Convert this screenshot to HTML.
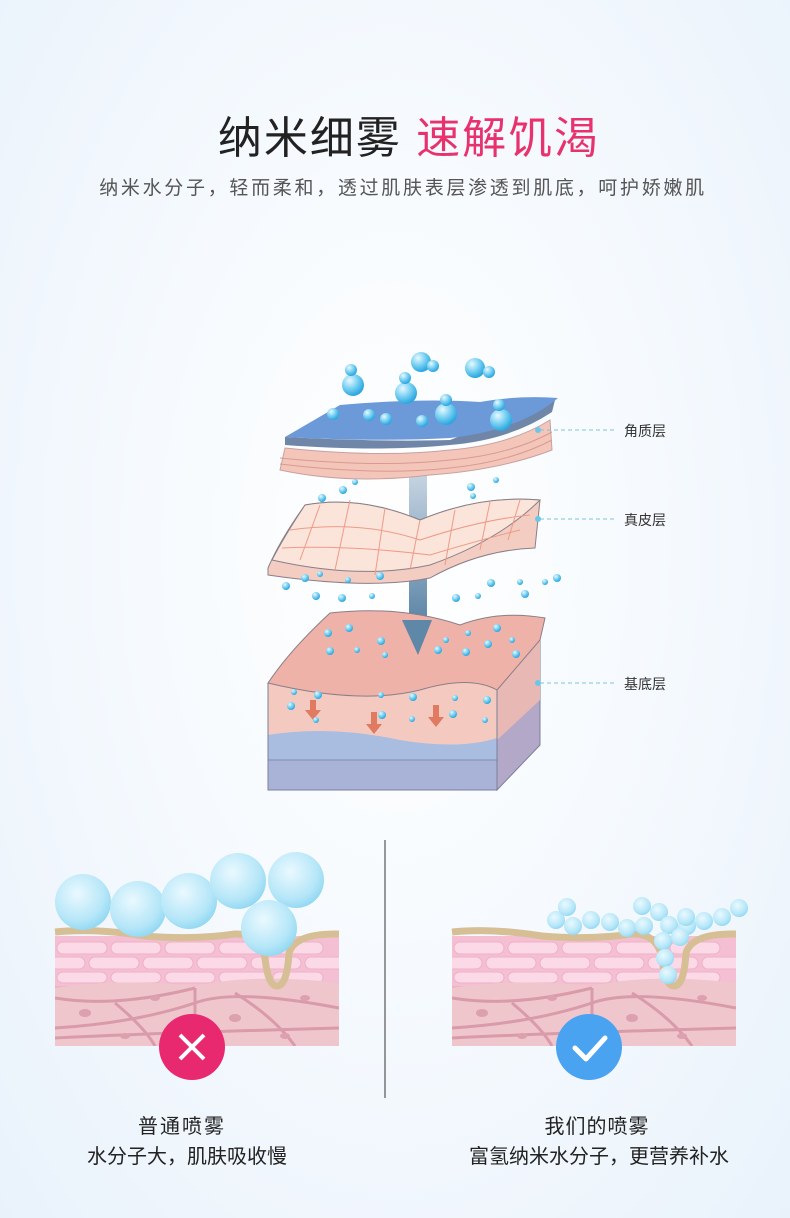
<!DOCTYPE html>
<html><head><meta charset="utf-8"><style>
html,body{margin:0;padding:0;}
body{width:790px;height:1218px;overflow:hidden;font-family:"Liberation Sans","Noto Sans CJK SC",sans-serif;background:radial-gradient(ellipse at 50% 45%,#ffffff 0%,#f6fafe 45%,#e9f2fb 100%);position:relative;}
.t{position:absolute;left:0;width:790px;text-align:center;}
</style></head><body>
<div class="t" style="top:102px;left:14px;font-size:44px;color:#222;letter-spacing:2px;">纳米细雾 <span style="color:#e8326e">速解饥渴</span></div>
<div class="t" style="top:173px;left:8px;font-size:19px;color:#555;letter-spacing:2.7px;">纳米水分子，轻而柔和，透过肌肤表层渗透到肌底，呵护娇嫩肌</div>
<svg width="790" height="1218" style="position:absolute;left:0;top:0">
<defs>
<radialGradient id="b" cx="35%" cy="30%" r="70%"><stop offset="0" stop-color="#e8f8ff"/><stop offset=".5" stop-color="#7fd3f3"/><stop offset="1" stop-color="#2aa7e0"/></radialGradient>
<radialGradient id="bb" cx="40%" cy="35%" r="70%"><stop offset="0" stop-color="#eaf9ff"/><stop offset=".7" stop-color="#b5e6f8"/><stop offset="1" stop-color="#8dd6f2"/></radialGradient>
<linearGradient id="ar" x1="0" y1="0" x2="0" y2="1"><stop offset="0" stop-color="#c9d6e3"/><stop offset="1" stop-color="#5e87a8"/></linearGradient>
<clipPath id="sc"><rect x="0" y="0" width="284" height="118"/></clipPath>
<g id="skin">
<g clip-path="url(#sc)">
<rect x="0" y="8" width="284" height="110" fill="#e8b6c2"/>
<rect x="0" y="8" width="284" height="50" fill="#f4bfd2"/>
<g fill="#fbd9e6" stroke="#f0b0c8" stroke-width="1">
<rect x="2" y="14" width="50" height="12" rx="6"/><rect x="56" y="14" width="50" height="12" rx="6"/><rect x="110" y="14" width="50" height="12" rx="6"/><rect x="164" y="14" width="50" height="12" rx="6"/><rect x="218" y="14" width="50" height="12" rx="6"/>
<rect x="-20" y="29" width="50" height="12" rx="6"/><rect x="34" y="29" width="50" height="12" rx="6"/><rect x="88" y="29" width="50" height="12" rx="6"/><rect x="142" y="29" width="50" height="12" rx="6"/><rect x="196" y="29" width="50" height="12" rx="6"/><rect x="250" y="29" width="50" height="12" rx="6"/>
<rect x="2" y="44" width="50" height="11" rx="6"/><rect x="56" y="44" width="50" height="11" rx="6"/><rect x="110" y="44" width="50" height="11" rx="6"/><rect x="164" y="44" width="50" height="11" rx="6"/><rect x="218" y="44" width="50" height="11" rx="6"/>
</g>
<path d="M0,60 Q60,50 140,58 Q200,45 284,55 L284,118 L0,118Z" fill="#efc6cc"/>
<g stroke="#d99aaa" stroke-width="3" fill="none">
<path d="M0,70 Q60,80 140,60 M0,100 Q80,95 140,75 Q180,60 284,80 M140,60 L140,118 M60,75 Q90,100 100,118 M180,65 Q220,90 240,118 M0,110 Q100,105 284,100"/>
</g>
<g fill="#dca0ae"><ellipse cx="30" cy="85" rx="6" ry="4"/><ellipse cx="100" cy="70" rx="5" ry="3"/><ellipse cx="180" cy="90" rx="6" ry="4"/><ellipse cx="250" cy="70" rx="5" ry="3"/><ellipse cx="230" cy="108" rx="5" ry="3"/><ellipse cx="70" cy="108" rx="5" ry="3"/></g>
</g>
<path d="M0,4 Q40,0 90,8 Q140,12 180,6 Q205,5 210,30 Q213,58 222,58 Q232,58 234,25 Q240,5 284,6" stroke="#d7bf95" stroke-width="7" fill="none"/>
</g>
</defs>

<rect x="409" y="470" width="18" height="150" fill="url(#ar)"/>

<path d="M268,683 L268,790 L497,790 L540,745 L540,640 Z" fill="#a4b4d6"/>
<path d="M268,683 Q360,705 420,690 Q470,675 497,690 L497,790 L268,790Z" fill="#f4cac0"/>
<path d="M268,735 Q330,725 400,740 Q460,750 497,738 L497,790 L268,790Z" fill="#a8bde0"/>
<rect x="268" y="760" width="229" height="30" fill="#a9b3d8" stroke="#7e8cb2"/>
<path d="M497,690 L540,640 L540,745 L497,790Z" fill="#b4a8c8" stroke="#7a7f9a"/>
<path d="M497,690 L540,640 L540,700 L497,740Z" fill="#e8b8b4"/>
<path d="M268,683 Q290,650 330,613 Q400,605 460,625 Q500,610 545,618 L540,640 L497,690 Q470,675 420,690 Q360,705 268,683Z" fill="#efb2a8" stroke="#8a7f88"/>
<path d="M268,683 L268,790 L497,790 L497,690" fill="none" stroke="#7a7f9a"/>
<g fill="#e07a60"><path d="M310,700h6v10h5l-8,10-8-10h5z"/><path d="M371,712h6v12h5l-8,10-8-10h5z"/><path d="M433,705h6v12h5l-8,10-8-10h5z"/></g>
<path d="M402,620 L432,620 L418,655Z" fill="#5e87a8"/>

<path d="M268,568 Q280,540 305,505 Q360,495 420,520 Q480,495 540,500 L535,548 Q480,550 430,578 Q370,590 268,575Z" fill="#f3cdc2" stroke="#8a7f88"/>
<path d="M272,560 Q285,535 305,505 Q360,495 420,520 Q480,495 540,500 Q500,540 430,565 Q360,580 272,560Z" fill="#fbe4da" stroke="#8a7f88"/>
<g stroke="#ef9a88" stroke-width="1" fill="none"><path d="M290,530 Q360,520 420,540 Q480,520 530,515 M282,548 Q350,545 430,555 Q480,540 520,530 M320,505 L300,560 M350,500 L335,570 M385,508 L375,575 M420,520 L410,570 M455,510 L445,565 M490,502 L480,550 M520,500 L508,540"/></g>

<path d="M285,448 Q380,458 450,450 Q510,445 550,420 L552,450 Q500,470 430,475 Q350,485 280,470Z" fill="#f4c6ba" stroke="#c9a0a0"/>
<path d="M280,458 Q380,468 450,460 Q510,455 552,432 M280,464 Q380,476 450,468 Q510,462 552,440" stroke="#d89a94" fill="none"/>
<path d="M285,445 Q380,452 450,445 Q510,440 552,412 L555,400 Q500,420 450,440 Q380,442 285,437Z" fill="#6f86a8"/>
<path d="M285,437 L340,405 Q420,398 480,402 Q520,395 558,398 Q520,430 450,438 Q380,442 285,437Z" fill="#6c9ad8"/>

<g stroke="#7cc3dd" stroke-dasharray="4,3" stroke-width="1"><line x1="540" y1="430" x2="614" y2="430"/><line x1="540" y1="519" x2="614" y2="519"/><line x1="540" y1="683" x2="614" y2="683"/></g>
<g fill="#6cc6e8"><circle cx="538" cy="430" r="3"/><circle cx="538" cy="519" r="3"/><circle cx="538" cy="683" r="3"/></g>
<g font-size="14" fill="#333" font-family="Liberation Sans,Noto Sans CJK SC,sans-serif"><text x="624" y="436">角质层</text><text x="624" y="525">真皮层</text><text x="624" y="689">基底层</text></g>

<g fill="url(#b)">
<circle cx="353" cy="385" r="11"/><circle cx="351" cy="370" r="6"/><circle cx="421" cy="362" r="10"/><circle cx="433" cy="366" r="6"/><circle cx="475" cy="368" r="10"/><circle cx="489" cy="372" r="6"/>
<circle cx="406" cy="393" r="11"/><circle cx="405" cy="378" r="6"/><circle cx="446" cy="414" r="11"/><circle cx="446" cy="400" r="6"/><circle cx="501" cy="420" r="11"/><circle cx="499" cy="405" r="6"/>
<circle cx="333" cy="414" r="6"/><circle cx="369" cy="415" r="6"/><circle cx="386" cy="419" r="6"/><circle cx="422" cy="421" r="6"/>
</g>
<g fill="url(#b)">
<circle cx="322" cy="498" r="4"/><circle cx="343" cy="490" r="4"/><circle cx="355" cy="482" r="3"/><circle cx="471" cy="487" r="4"/><circle cx="496" cy="480" r="3"/><circle cx="473" cy="496" r="3"/>
<circle cx="286" cy="586" r="4"/><circle cx="305" cy="578" r="4"/><circle cx="320" cy="574" r="3"/><circle cx="316" cy="596" r="4"/><circle cx="342" cy="598" r="4"/><circle cx="348" cy="580" r="3"/><circle cx="380" cy="576" r="4"/><circle cx="372" cy="596" r="3"/>
<circle cx="456" cy="598" r="4"/><circle cx="478" cy="596" r="3"/><circle cx="491" cy="583" r="4"/><circle cx="525" cy="594" r="4"/><circle cx="545" cy="582" r="3"/><circle cx="557" cy="578" r="4"/><circle cx="520" cy="582" r="3"/>
<circle cx="328" cy="633" r="4"/><circle cx="349" cy="628" r="4"/><circle cx="330" cy="651" r="4"/><circle cx="357" cy="650" r="3"/><circle cx="381" cy="641" r="4"/><circle cx="385" cy="655" r="3"/><circle cx="438" cy="650" r="4"/><circle cx="446" cy="640" r="3"/><circle cx="466" cy="652" r="4"/><circle cx="468" cy="633" r="3"/><circle cx="488" cy="644" r="4"/><circle cx="497" cy="628" r="4"/><circle cx="512" cy="640" r="3"/><circle cx="516" cy="654" r="4"/>
<circle cx="291" cy="706" r="4"/><circle cx="294" cy="692" r="3"/><circle cx="318" cy="695" r="4"/><circle cx="316" cy="720" r="3"/><circle cx="381" cy="695" r="3"/><circle cx="382" cy="715" r="4"/><circle cx="413" cy="697" r="4"/><circle cx="412" cy="719" r="3"/><circle cx="453" cy="714" r="4"/><circle cx="455" cy="698" r="3"/><circle cx="487" cy="700" r="4"/><circle cx="485" cy="720" r="3"/>
</g>

<line x1="385" y1="840" x2="385" y2="1098" stroke="#333" stroke-width="1"/>

<use href="#skin" x="55" y="928"/>
<use href="#skin" x="452" y="928"/>
<g fill="url(#bb)">
<circle cx="83" cy="902" r="28"/><circle cx="138" cy="909" r="28"/><circle cx="189" cy="901" r="28"/><circle cx="238" cy="881" r="28"/><circle cx="296" cy="880" r="28"/><circle cx="269" cy="928" r="28"/>
</g>
<g fill="url(#bb)">
<circle cx="556" cy="920" r="9"/><circle cx="567" cy="907" r="9"/><circle cx="573" cy="926" r="9"/><circle cx="591" cy="920" r="9"/><circle cx="610" cy="922" r="9"/><circle cx="627" cy="928" r="9"/><circle cx="644" cy="926" r="9"/><circle cx="642" cy="906" r="9"/><circle cx="659" cy="912" r="9"/><circle cx="669" cy="925" r="9"/><circle cx="687" cy="926" r="9"/><circle cx="663" cy="941" r="9"/><circle cx="680" cy="937" r="9"/><circle cx="686" cy="917" r="9"/><circle cx="704" cy="921" r="9"/><circle cx="722" cy="917" r="9"/><circle cx="739" cy="908" r="9"/><circle cx="665" cy="958" r="9"/><circle cx="668" cy="975" r="9"/>
</g>
<circle cx="192" cy="1047" r="33" fill="#e8296f"/>
<path d="M180,1035 L204,1059 M204,1035 L180,1059" stroke="#fff" stroke-width="4"/>
<circle cx="589" cy="1047" r="33" fill="#4aa3f0"/>
<path d="M575,1048 L586,1059 L605,1038" stroke="#fff" stroke-width="5" fill="none" stroke-linecap="round" stroke-linejoin="round"/>
</svg>
<div style="position:absolute;left:32px;width:300px;text-align:center;top:1110px;font-size:20px;color:#222;letter-spacing:2px;">普通喷雾</div>
<div style="position:absolute;left:32px;width:310px;text-align:center;top:1140px;font-size:20px;color:#222;">水分子大，肌肤吸收慢</div>
<div style="position:absolute;left:447px;width:300px;text-align:center;top:1110px;font-size:20px;color:#222;letter-spacing:1px;">我们的喷雾</div>
<div style="position:absolute;left:419px;width:360px;text-align:center;top:1140px;font-size:20px;color:#222;">富氢纳米水分子，更营养补水</div>
</body></html>
